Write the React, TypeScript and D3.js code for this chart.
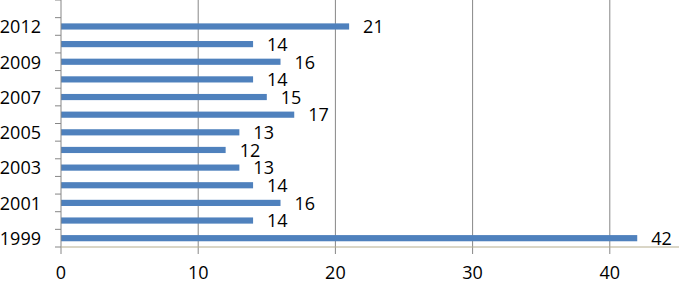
import React from "react";
import * as d3 from "d3";

const categories: string[] = ["1999","2000","2001","2002","2003","2004","2005","2006","2007","2008","2009","2010","2012",""];
const values: (number | null)[] = [42,14,16,14,13,12,13,17,15,14,16,14,21,null];
const xTicks: number[] = [0,10,20,30,40];

const W = 679, H = 283;
const margin = { left: 61, right: 0, top: 0, bottom: 36 };
const FONT = "'Open Sans', 'Liberation Sans', sans-serif";

export default function App() {
  const plotBottom = H - margin.bottom; // 247
  const x = d3.scaleLinear().domain([0, 45]).range([margin.left, margin.left + 45 * 13.72]);
  const y = d3.scaleBand<string>()
    .domain(categories.map((c, i) => String(i)))
    .range([plotBottom, margin.top])
    .paddingInner(0.65)
    .paddingOuter(0.325);
  const band = d3.scaleBand<string>().domain(categories.map((c, i) => String(i))).range([plotBottom, margin.top]);
  const step = band.step();
  const boundaries = d3.range(categories.length + 1).map((i) => plotBottom - i * step);

  return (
    <svg width={W} height={H} style={{ position: "absolute", left: 0, top: 0, background: "#fff" }} fontFamily={FONT}>
      {xTicks.filter((t) => t > 0).map((t) => (
        <line key={"g" + t} x1={x(t)} x2={x(t)} y1={margin.top} y2={plotBottom + 7} stroke="#878787" strokeWidth={1} />
      ))}
      {values.map((v, i) =>
        v == null ? null : (
          <rect key={"b" + i} x={x(0)} y={y(String(i))!} width={x(v) - x(0)} height={y.bandwidth()} fill="#4F81BD" />
        )
      )}
      {values.map((v, i) =>
        v == null ? null : (
          <text key={"v" + i} x={x(v) + 14} y={y(String(i))! + y.bandwidth() / 2 + 2} dominantBaseline="middle" fontSize={18} fill="#000">
            {v}
          </text>
        )
      )}
      <line x1={x(0)} x2={x(0)} y1={0} y2={plotBottom + 7} stroke="#868686" strokeWidth={1} />
      {boundaries.map((b, i) => (
        <line key={"t" + i} x1={x(0) - 6} x2={x(0)} y1={b} y2={b} stroke="#868686" strokeWidth={1} />
      ))}
      <line x1={x(0)} x2={W} y1={plotBottom} y2={plotBottom} stroke="#b5ad8e" strokeWidth={1} />
      {categories.map((c, i) =>
        i % 2 === 0 && c ? (
          <text key={"c" + i} x={41} y={band(String(i))! + step / 2 + 2} textAnchor="end" dominantBaseline="middle" fontSize={18} fill="#000">
            {c}
          </text>
        ) : null
      )}
      {xTicks.map((t) => (
        <text key={"x" + t} x={x(t)} y={279} textAnchor="middle" fontSize={18} fill="#000">
          {t}
        </text>
      ))}
    </svg>
  );
}
